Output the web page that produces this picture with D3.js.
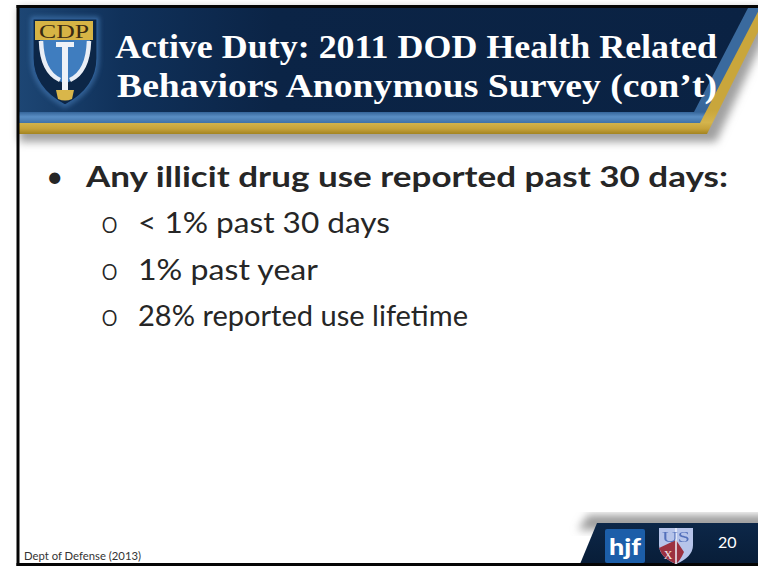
<!DOCTYPE html>
<html><head><meta charset="utf-8">
<script src="https://cdn.jsdelivr.net/npm/d3@7"></script>
<style>html,body{margin:0;padding:0;background:#fff;overflow:hidden}</style>
</head><body><svg id="s" width="758" height="566"></svg>
<script>
// ---------- content ----------
const titleLines = ["Active Duty: 2011 DOD Health Related", "Behaviors Anonymous Survey (con\u2019t)"];
const mainBullets = ["Any illicit drug use reported past 30 days:"];
const subBullets = ["< 1% past 30 days", "1% past year", "28% reported use lifetime"];
const sourceNote = ["Dept of Defense (2013)"];
const slideNumber = ["20"];
const logoLetters = ["CDP"];
const partnerLogos = ["hjf", "USU"];

// ---------- layout ----------
const svg = d3.select("#s");
const defs = svg.append("defs");

function lin(id, x1, y1, x2, y2, stops, user) {
  const g = defs.append("linearGradient").attr("id", id)
    .attr("x1", x1).attr("y1", y1).attr("x2", x2).attr("y2", y2);
  if (user) g.attr("gradientUnits", "userSpaceOnUse");
  g.selectAll("stop").data(stops).join("stop")
    .attr("offset", d => d[0]).attr("stop-color", d => d[1]);
}
lin("navyG", 0, 0, 1, 0, [[0, "#1d4674"], [0.14, "#10315a"], [0.35, "#0b2446"], [1, "#0a2243"]]);
lin("blueG", 0, 100, 0, 124, [[0, "#3a6a9e"], [0.5, "#35659a"], [0.7, "#5a8ec4"], [1, "#3c6da2"]], true);
lin("goldG", 0, 110, 0, 135, [[0, "#c9a63c"], [0.5, "#d4b44c"], [0.75, "#c6a23a"], [1, "#9c7e1c"]], true);
lin("footG", 0, 0, 0, 1, [[0, "#0c2748"], [1, "#081d38"]]);
const blur = defs.append("filter").attr("id", "blur").attr("x", "-20%").attr("y", "-20%").attr("width", "140%").attr("height", "160%");
blur.append("feGaussianBlur").attr("stdDeviation", 4);
const blur2 = defs.append("filter").attr("id", "glow").attr("x", "-30%").attr("y", "-30%").attr("width", "160%").attr("height", "160%");
blur2.append("feGaussianBlur").attr("stdDeviation", 2.5);

const line = d3.line();

// header shadow + layered bands
const headerLayers = [
  {pts: [[19, 8], [778, 8], [716, 142], [19, 142]], fill: "#a0a0a0", filter: "url(#blur)"},
  {pts: [[19, 8], [770, 8], [707, 134], [19, 134]], fill: "url(#goldG)"},
  {pts: [[19, 8], [760, 8], [700, 123], [19, 123]], fill: "url(#blueG)"},
  {pts: [[19, 8], [748, 8], [694, 112], [19, 112]], fill: "url(#navyG)"}
];
svg.append("g").selectAll("path").data(headerLayers).join("path")
  .attr("d", d => line(d.pts) + "Z")
  .attr("fill", d => d.fill)
  .attr("filter", d => d.filter || null);

// footer shadow + band
svg.append("path").attr("d", line([[588, 515], [770, 515], [770, 530], [578, 530]]) + "Z")
  .attr("fill", "#9c9c9c").attr("filter", "url(#blur)");
svg.append("path").attr("d", line([[597, 523], [758, 523], [758, 564], [580, 564]]) + "Z")
  .attr("fill", "url(#footG)");

// frame
const frame = [
  {x: 16.5, y: 5, w: 3, h: 561},
  {x: 16.5, y: 5, w: 742, h: 3},
  {x: 16.5, y: 563, w: 742, h: 3}
];
svg.append("g").selectAll("rect").data(frame).join("rect")
  .attr("x", d => d.x).attr("y", d => d.y).attr("width", d => d.w).attr("height", d => d.h)
  .attr("fill", "#050505");

// ---------- CDP logo ----------
const logo = svg.append("g");
const shield = "M33,19 H97 V58 Q97,88 65,105 Q33,88 33,58 Z";
logo.append("path").attr("d", shield).attr("fill", "none").attr("stroke", "#4f86c2")
  .attr("stroke-width", 4).attr("opacity", 0.7).attr("filter", "url(#glow)");
logo.append("path").attr("d", shield).attr("fill", "#0c2647").attr("stroke", "#2d5d94").attr("stroke-width", 1.2);
logo.append("path").attr("d", "M40,40 H90 Q90,72 65,84 Q40,72 40,40 Z").attr("fill", "#3f7dbf");
logo.append("rect").attr("x", 35).attr("y", 21).attr("width", 58).attr("height", 19).attr("fill", "#d7b445");
logo.selectAll("text.cdp").data(logoLetters).join("text").attr("class", "cdp")
  .attr("x", 64).attr("y", 37.5).attr("text-anchor", "middle")
  .attr("font-family", "Liberation Serif, serif").attr("font-size", 19)
  .attr("textLength", 50).attr("lengthAdjust", "spacingAndGlyphs")
  .attr("fill", "#3a2a12").text(d => d);
// psi arms
logo.append("path").attr("d", "M41,41 Q42,72 60,80").attr("fill", "none").attr("stroke", "#e9eef6").attr("stroke-width", 4.5);
logo.append("path").attr("d", "M89,41 Q88,72 70,80").attr("fill", "none").attr("stroke", "#e9eef6").attr("stroke-width", 4.5);
logo.append("rect").attr("x", 56).attr("y", 42).attr("width", 18).attr("height", 5).attr("fill", "#eef2f8");
logo.append("rect").attr("x", 62).attr("y", 44).attr("width", 6).attr("height", 47).attr("fill", "#eef2f8");
logo.append("path").attr("d", "M56,90 H74 L72,99 Q65,102 58,99 Z").attr("fill", "#d9b64a");

// ---------- title ----------
const titleY = d3.scaleLinear().domain([0, 1]).range([58, 97]);
svg.append("g").selectAll("text").data(titleLines).join("text")
  .attr("x", (d, i) => i === 0 ? 115 : 117)
  .attr("y", (d, i) => titleY(i))
  .attr("font-family", "Liberation Serif, 'DejaVu Serif', serif")
  .attr("font-weight", "bold").attr("font-size", 34)
  .attr("textLength", (d, i) => i === 0 ? 602 : 600)
  .attr("lengthAdjust", "spacingAndGlyphs")
  .attr("fill", "#ffffff").text(d => d);

// ---------- bullets ----------
const rowY = d3.scaleLinear().domain([0, 1]).range([187, 233.3]);
const body = svg.append("g").attr("fill", "#262626");
body.selectAll("text.dot").data(mainBullets).join("text").attr("class", "dot")
  .attr("x", 46).attr("y", (d, i) => rowY(i))
  .attr("font-family", "Lato, 'Open Sans', sans-serif").attr("font-size", 30)
  .text("\u2022");
body.selectAll("text.main").data(mainBullets).join("text").attr("class", "main")
  .attr("x", 86).attr("y", (d, i) => rowY(i))
  .attr("font-family", "Lato, 'Open Sans', sans-serif").attr("font-weight", "bold").attr("font-size", 28.5)
  .attr("textLength", 642).attr("lengthAdjust", "spacingAndGlyphs")
  .text(d => d);
const subWidths = [252, 180, 330];
body.selectAll("text.o").data(subBullets).join("text").attr("class", "o")
  .attr("x", 101).attr("y", (d, i) => rowY(i + 1))
  .attr("font-family", "'Noto Sans', 'Open Sans', sans-serif").attr("font-size", 29)
  .attr("font-weight", 300)
  .text("o");
body.selectAll("text.sub").data(subBullets).join("text").attr("class", "sub")
  .attr("x", 138).attr("y", (d, i) => rowY(i + 1))
  .attr("font-family", "Lato, 'Open Sans', sans-serif").attr("font-size", 28.5)
  .attr("textLength", (d, i) => subWidths[i]).attr("lengthAdjust", "spacingAndGlyphs")
  .text(d => d);

// ---------- footer ----------
svg.selectAll("text.src").data(sourceNote).join("text").attr("class", "src")
  .attr("x", 24).attr("y", 560)
  .attr("font-family", "Lato, 'Open Sans', sans-serif").attr("font-size", 11.5)
  .attr("textLength", 117).attr("lengthAdjust", "spacingAndGlyphs")
  .attr("fill", "#333").text(d => d);
svg.selectAll("text.num").data(slideNumber).join("text").attr("class", "num")
  .attr("x", 718).attr("y", 548)
  .attr("font-family", "Lato, 'Open Sans', sans-serif").attr("font-size", 16)
  .attr("fill", "#ffffff").text(d => d);

// partner logos
const pl = svg.append("g");
pl.append("rect").attr("x", 605).attr("y", 529).attr("width", 40).attr("height", 34).attr("rx", 2).attr("fill", "#1c5ea9");
pl.append("text").attr("x", 625).attr("y", 555).attr("text-anchor", "middle")
  .attr("font-family", "Lato, 'Open Sans', sans-serif").attr("font-weight", "900").attr("font-size", 23)
  .attr("textLength", 32).attr("lengthAdjust", "spacingAndGlyphs")
  .attr("fill", "#ffffff").text(partnerLogos[0]);
const usu = "M659,528 H693 V545 Q693,557 676,564 Q659,557 659,545 Z";
pl.append("path").attr("d", usu).attr("fill", "#b6c4ea");
pl.append("path").attr("d", "M659,548 L676,540 L684,552 Q680,561 676,564 Q662,558 660,550 Z").attr("fill", "#9c3140");
pl.append("path").attr("d", "M676,528 V564").attr("stroke", "#eef2fb").attr("stroke-width", 1.5);
pl.append("text").attr("x", 676).attr("y", 542).attr("text-anchor", "middle")
  .attr("font-family", "Liberation Serif, serif").attr("font-size", 15)
  .attr("textLength", 28).attr("lengthAdjust", "spacingAndGlyphs")
  .attr("fill", "#3b5cb0").attr("opacity", 0.8).text("US");
pl.append("text").attr("x", 668).attr("y", 559).attr("text-anchor", "middle")
  .attr("font-family", "Liberation Serif, serif").attr("font-size", 12)
  .attr("fill", "#f3e6e6").text("X");
</script>
</body></html>
